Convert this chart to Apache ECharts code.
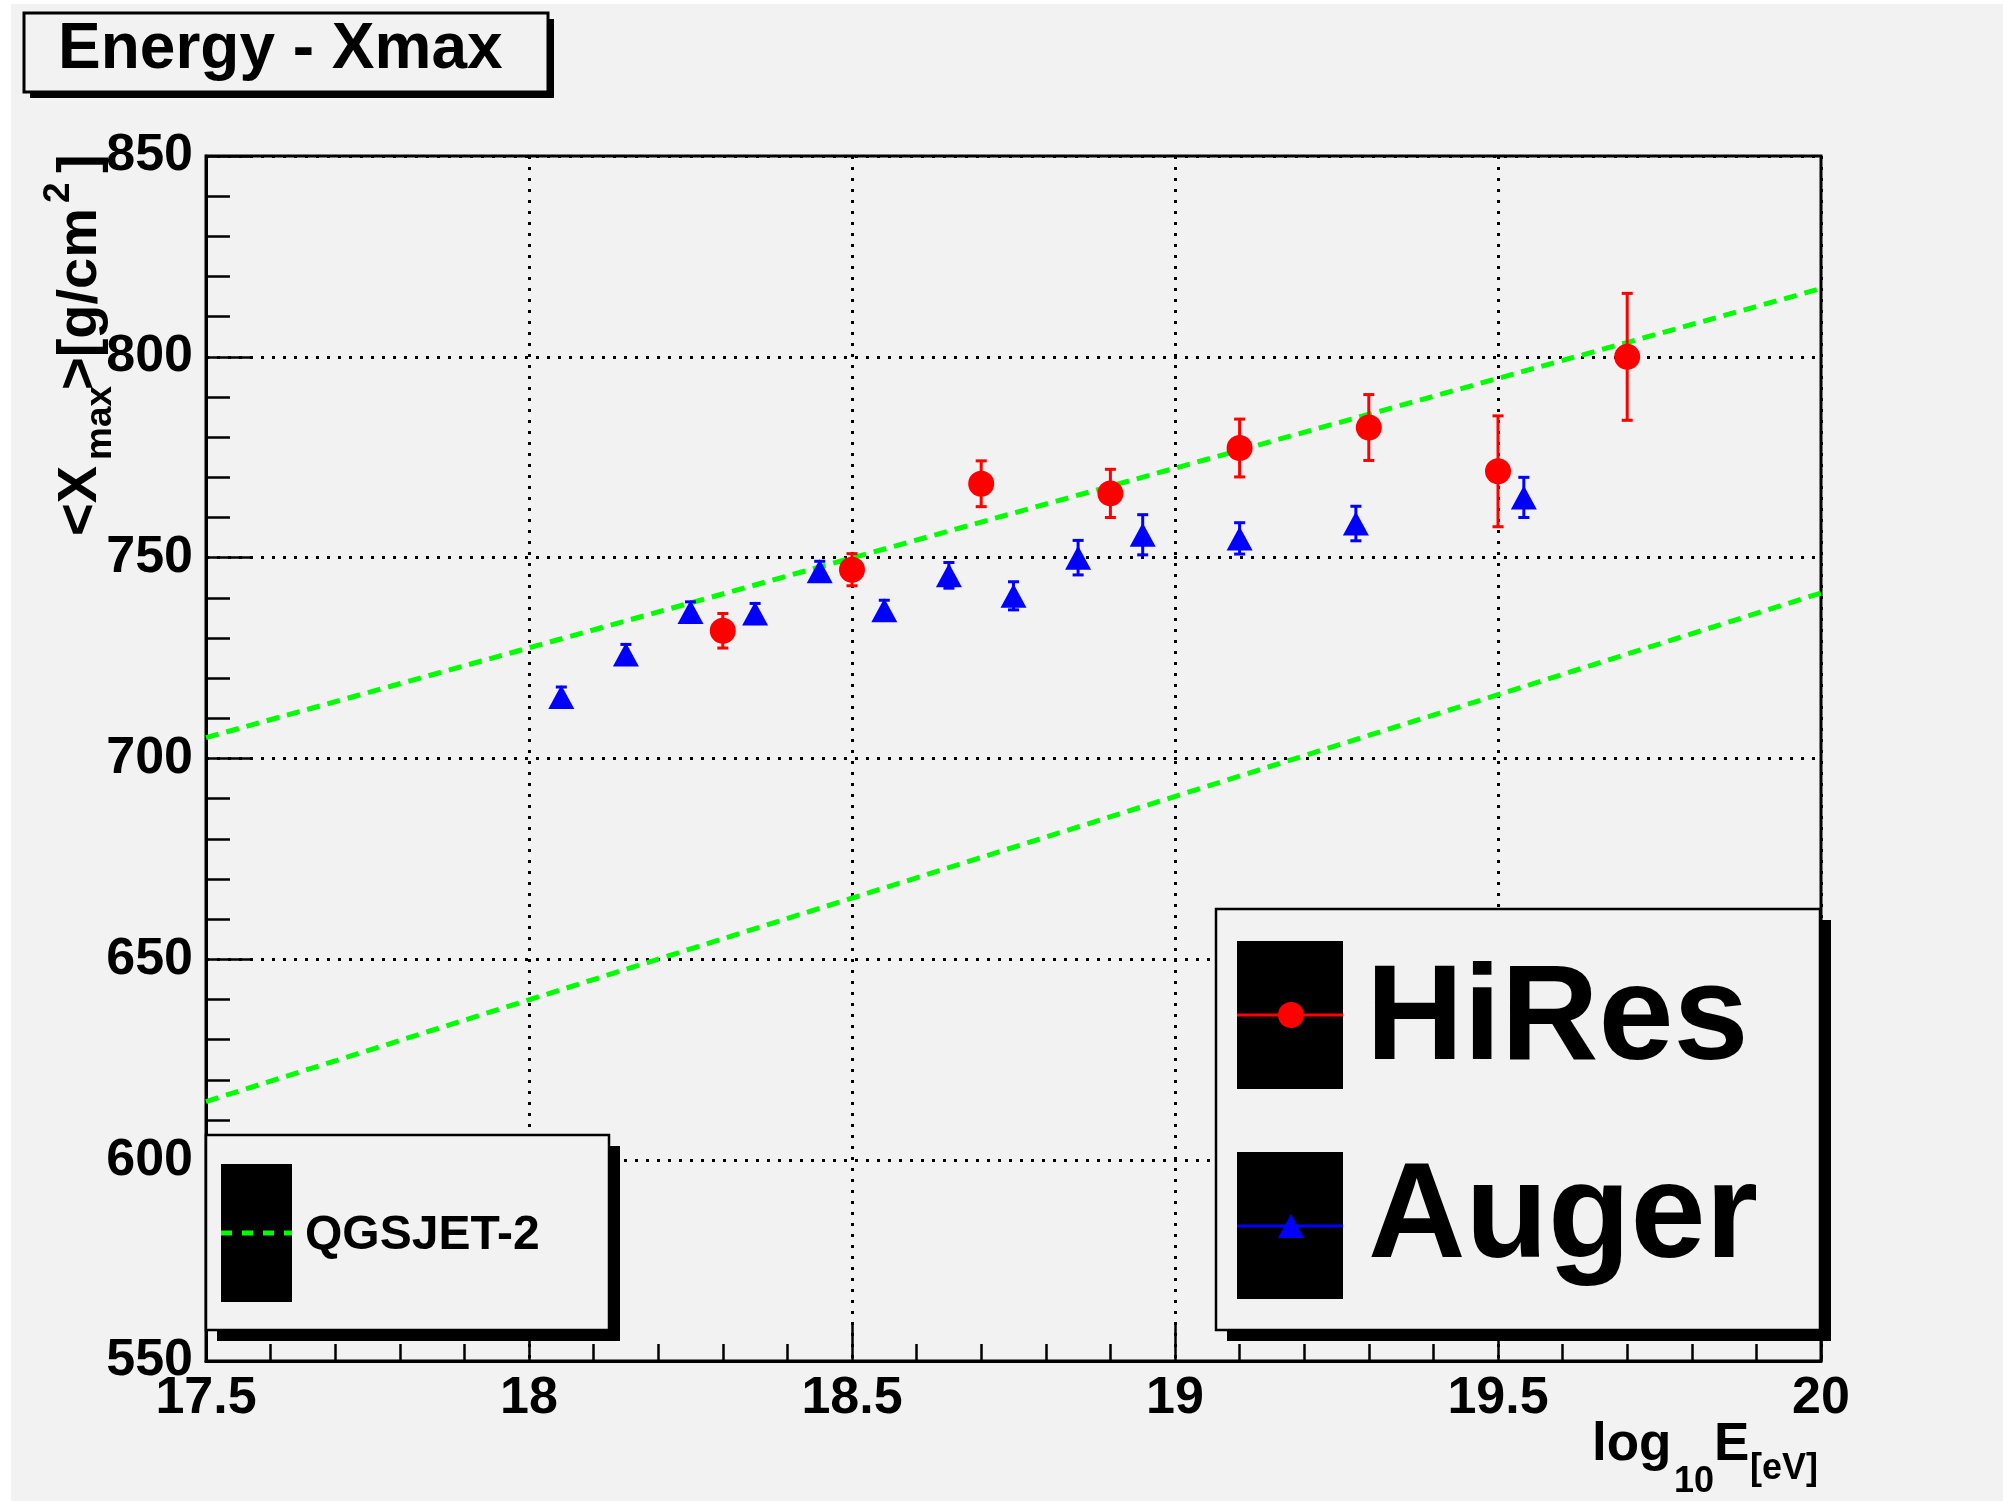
<!DOCTYPE html>
<html>
<head>
<meta charset="utf-8">
<script src="https://cdn.jsdelivr.net/npm/echarts@6/dist/echarts.min.js"></script>
<style>
  html, body { margin: 0; padding: 0; background: #ffffff; }
  #bg { position: absolute; left: 11px; top: 4px; width: 1992px; height: 1497px; background: #f2f2f2; }
  #chart { position: absolute; left: 0; top: 0; width: 2003px; height: 1501px; }
</style>
</head>
<body>
<div id="bg"></div>
<div id="chart"></div>
<script>
// ---- data ----
const xTickLabels = ['17.5', '18', '18.5', '19', '19.5', '20'];
const yTickLabels = ['550', '600', '650', '700', '750', '800', '850'];

const hiresX   = [18.3, 18.5, 18.7, 18.9, 19.1, 19.3, 19.5, 19.7];
const hiresY   = [731.8, 747.0, 768.4, 766.0, 777.3, 782.4, 771.5, 800.0];
const hiresErr = [4.3, 4.0, 5.7, 6.0, 7.2, 8.2, 13.8, 15.8];

const augerX   = [18.05, 18.15, 18.25, 18.35, 18.45, 18.55, 18.65, 18.75, 18.85, 18.95, 19.1, 19.28, 19.54];
const augerY   = [715.3, 725.9, 736.5, 736.1, 746.6, 736.9, 745.6, 740.5, 750.0, 755.7, 754.8, 758.5, 765.0];
const augerErr = [2.5, 2.5, 2.5, 2.5, 2.5, 2.5, 3.2, 3.5, 4.3, 5.0, 3.9, 4.3, 5.0];

const qgsUpperX = [17.5, 20.0];
const qgsUpperY = [705.2, 817.0];
const qgsLowerX = [17.5, 20.0];
const qgsLowerY = [614.6, 741.2];

// ---- build ----
const FONT = '"Liberation Sans", Arial, Helvetica, sans-serif';
const zip2 = (a, b) => a.map((v, i) => [v, b[i]]);
const zip3 = (a, b, c) => a.map((v, i) => [v, b[i], c[i]]);

function errRender(color) {
  return function (params, api) {
    const x = api.value(0), y = api.value(1), e = api.value(2);
    const t = api.coord([x, y + e]);
    const b = api.coord([x, y - e]);
    const hw = 5.5;
    const st = { stroke: color, lineWidth: 3 };
    return {
      type: 'group',
      children: [
        { type: 'line', shape: { x1: t[0], y1: t[1], x2: b[0], y2: b[1] }, style: st },
        { type: 'line', shape: { x1: t[0] - hw, y1: t[1], x2: t[0] + hw, y2: t[1] }, style: st },
        { type: 'line', shape: { x1: b[0] - hw, y1: b[1], x2: b[0] + hw, y2: b[1] }, style: st }
      ]
    };
  };
}

// y is the intended cap-centre; small downward correction for the renderer's "middle"
function txt(text, x, y, size, extra) {
  return Object.assign({
    type: 'text', x: x, y: y + 0.06 * size, z: 101,
    style: {
      text: text, fontSize: size, fontWeight: 'bold', fontFamily: FONT, fill: '#000',
      align: 'left', verticalAlign: 'middle', textAlign: 'left', textVerticalAlign: 'middle'
    }
  }, extra || {});
}
function rtxt(text, x, y, size) {
  // for rotated group: local y maps to screen x
  return {
    type: 'text', x: x, y: y, z: 101,
    style: {
      text: text, fontSize: size, fontWeight: 'bold', fontFamily: FONT, fill: '#000',
      align: 'left', verticalAlign: 'middle', textAlign: 'left', textVerticalAlign: 'middle'
    }
  };
}

const chart = echarts.init(document.getElementById('chart'), null, { renderer: 'canvas' });

const option = {
  animation: false,
  backgroundColor: 'transparent',
  grid: {
    left: 206, top: 156, width: 1615, height: 1205,
    show: true, borderColor: '#000', borderWidth: 3, backgroundColor: 'transparent'
  },
  xAxis: {
    type: 'value', min: 17.5, max: 20, interval: 0.5,
    axisLine: { show: true, onZero: false, lineStyle: { color: '#000', width: 3 } },
    axisTick: { show: true, inside: true, length: 36, lineStyle: { color: '#000', width: 2.5 } },
    minorTick: { show: true, splitNumber: 5, length: 17, lineStyle: { color: '#000', width: 2.5 } },
    splitLine: { show: true, lineStyle: { color: '#000', width: 3, type: [3, 8] } },
    axisLabel: {
      fontSize: 52, fontWeight: 'bold', fontFamily: FONT, color: '#000', margin: 12,
      formatter: function (v) { const i = Math.round((v - 17.5) / 0.5); return xTickLabels[i] || ''; }
    }
  },
  yAxis: {
    type: 'value', min: 550, max: 850, interval: 50,
    axisLine: { show: true, onZero: false, lineStyle: { color: '#000', width: 3 } },
    axisTick: { show: true, inside: true, length: 47, lineStyle: { color: '#000', width: 2.5 } },
    minorTick: { show: true, splitNumber: 5, length: 24, lineStyle: { color: '#000', width: 2.5 } },
    splitLine: { show: true, lineStyle: { color: '#000', width: 3, type: [3, 8] } },
    axisLabel: {
      fontSize: 52, fontWeight: 'bold', fontFamily: FONT, color: '#000', margin: 13,
      padding: [7, 0, 0, 0],
      formatter: function (v) { const i = Math.round((v - 550) / 50); return yTickLabels[i] || ''; }
    }
  },
  series: [
    {
      name: 'QGSJET-2 upper', type: 'line', data: zip2(qgsUpperX, qgsUpperY), showSymbol: false,
      silent: true, z: 2, clip: true,
      lineStyle: { color: '#00ff00', width: 5, type: [13, 8] }
    },
    {
      name: 'QGSJET-2 lower', type: 'line', data: zip2(qgsLowerX, qgsLowerY), showSymbol: false,
      silent: true, z: 2, clip: true,
      lineStyle: { color: '#00ff00', width: 5, type: [13, 8] }
    },
    {
      name: 'HiRes err', type: 'custom', data: zip3(hiresX, hiresY, hiresErr),
      encode: { x: 0, y: 1 }, renderItem: errRender('#ff0000'), z: 3, silent: true
    },
    {
      name: 'Auger err', type: 'custom', data: zip3(augerX, augerY, augerErr),
      encode: { x: 0, y: 1 }, renderItem: errRender('#0000ff'), z: 3, silent: true
    },
    {
      name: 'HiRes', type: 'scatter', data: zip2(hiresX, hiresY),
      symbol: 'circle', symbolSize: 26, itemStyle: { color: '#ff0000', opacity: 1 }, z: 4, silent: true
    },
    {
      name: 'Auger', type: 'scatter', data: zip2(augerX, augerY),
      symbol: 'triangle', symbolSize: [26, 24], itemStyle: { color: '#0000ff', opacity: 1 }, z: 4, silent: true
    }
  ],
  graphic: {
    elements: [
      // title box
      { type: 'rect', z: 100, shape: { x: 30, y: 19, width: 524, height: 79 }, style: { fill: '#000' } },
      { type: 'rect', z: 100, shape: { x: 24, y: 13, width: 524, height: 79 }, style: { fill: '#f2f2f2', stroke: '#000', lineWidth: 3 } },
      txt('Energy - Xmax', 58, 46.5, 64),

      // big legend
      { type: 'rect', z: 100, shape: { x: 1227, y: 920, width: 604, height: 421 }, style: { fill: '#000' } },
      { type: 'rect', z: 100, shape: { x: 1216, y: 909, width: 604, height: 421 }, style: { fill: '#f2f2f2', stroke: '#000', lineWidth: 2.5 } },
      { type: 'rect', z: 101, shape: { x: 1237, y: 941, width: 106, height: 148 }, style: { fill: '#000' } },
      { type: 'rect', z: 101, shape: { x: 1237, y: 1152, width: 106, height: 147 }, style: { fill: '#000' } },
      { type: 'line', z: 102, shape: { x1: 1237, y1: 1015, x2: 1343, y2: 1015 }, style: { stroke: '#ff0000', lineWidth: 3 } },
      { type: 'circle', z: 103, shape: { cx: 1291, cy: 1015, r: 13 }, style: { fill: '#ff0000' } },
      { type: 'line', z: 102, shape: { x1: 1237, y1: 1226, x2: 1343, y2: 1226 }, style: { stroke: '#0000ff', lineWidth: 3 } },
      { type: 'polygon', z: 103, shape: { points: [[1291, 1214], [1278, 1238], [1304, 1238]] }, style: { fill: '#0000ff' } },
      txt('HiRes', 1366, 1013.5, 135),
      txt('Auger', 1368, 1212, 135),

      // QGSJET legend
      { type: 'rect', z: 100, shape: { x: 217, y: 1146, width: 403, height: 195 }, style: { fill: '#000' } },
      { type: 'rect', z: 100, shape: { x: 206, y: 1135, width: 403, height: 195 }, style: { fill: '#f2f2f2', stroke: '#000', lineWidth: 2.5 } },
      { type: 'rect', z: 101, shape: { x: 221, y: 1164, width: 71, height: 138 }, style: { fill: '#000' } },
      { type: 'line', z: 102, shape: { x1: 221, y1: 1233, x2: 292, y2: 1233 }, style: { stroke: '#00ff00', lineWidth: 5, lineDash: [11, 10] } },
      txt('QGSJET-2', 305, 1232.5, 48),

      // x-axis title
      txt('log', 1592, 1442, 53),
      txt('10', 1674, 1480, 36),
      txt('E', 1714, 1442, 53),
      txt('[eV]', 1750, 1466.5, 36),

      // y-axis title (rotated)
      {
        type: 'group', x: 81, y: 533, rotation: Math.PI / 2, z: 101,
        children: [
          rtxt('<X', -3, 0, 56),
          rtxt('max', 73, 20, 37),
          rtxt('>[g/cm', 143, 0, 56),
          rtxt('2', 330, -22, 37),
          rtxt(']', 360, 0, 56)
        ]
      }
    ]
  }
};

chart.setOption(option);
</script>
</body>
</html>
